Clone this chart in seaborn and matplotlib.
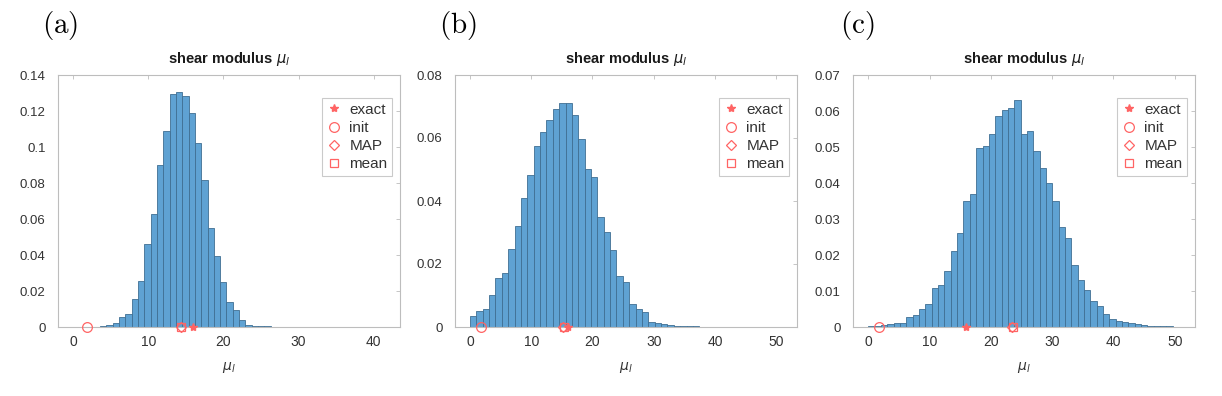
import numpy as np
import pandas as pd
import matplotlib
matplotlib.use('Agg')
import matplotlib.pyplot as plt
import seaborn as sns
from matplotlib.ticker import FuncFormatter, MultipleLocator

# histogram bins (50 per panel): start and width
bin_start = [0.25, 0.0, 0.0]
bin_width = [0.84, 1.04, 1.035]

# pdf heights of each bin
pdf_a = [0, 0, 0.0001, 0.0002, 0.0005, 0.0010, 0.0024, 0.0057, 0.0070, 0.0156,
         0.0256, 0.0460, 0.0630, 0.0900, 0.1090, 0.1294, 0.1304, 0.1283, 0.1190, 0.1024,
         0.0817, 0.0548, 0.0394, 0.0252, 0.0137, 0.0094, 0.0039, 0.0012, 0.0008, 0.0005,
         0.0003, 0.0002, 0.0001, 0.0001, 0.0001, 0.0001, 0.0001, 0.0001, 0.0001, 0.0001,
         0.0001, 0.0001, 0.0001, 0.0001, 0.0001, 0.0001, 0.0001, 0.0001, 0.0001, 0.0001]
pdf_b = [0.0034, 0.0051, 0.0056, 0.0102, 0.0155, 0.0170, 0.0249, 0.0320, 0.0408, 0.0482,
         0.0574, 0.0620, 0.0657, 0.0692, 0.0712, 0.0712, 0.0673, 0.0597, 0.0503, 0.0477,
         0.0349, 0.0302, 0.0246, 0.0161, 0.0143, 0.0072, 0.0058, 0.0048, 0.0016, 0.0013,
         0.0008, 0.0005, 0.0004, 0.0003, 0.0002, 0.0002, 0.0001, 0.0001, 0.0001, 0.0001,
         0.0001, 0.0001, 0.0001, 0.0001, 0.0001, 0.0001, 0.0001, 0.0001, 0.0001, 0.0001]
pdf_c = [0.0002, 0.0003, 0.0005, 0.0007, 0.0012, 0.0012, 0.0028, 0.0034, 0.0051, 0.0065,
         0.0109, 0.0116, 0.0156, 0.0211, 0.0262, 0.0350, 0.0369, 0.0497, 0.0502, 0.0536,
         0.0585, 0.0603, 0.0607, 0.0630, 0.0535, 0.0544, 0.0490, 0.0442, 0.0400, 0.0349,
         0.0278, 0.0246, 0.0172, 0.0130, 0.0104, 0.0071, 0.0057, 0.0037, 0.0023, 0.0017,
         0.0014, 0.0011, 0.0007, 0.0006, 0.0004, 0.0003, 0.0002, 0.0002, 0.0001, 0.0001]

# marker positions (on the x axis)
exact_val = [16.0, 16.0, 16.0]
init_val = [1.8, 1.8, 1.8]
map_val = [14.3, 15.2, 23.5]
mean_val = [14.4, 15.3, 23.6]

panel_labels = ['(a)', '(b)', '(c)']
xlims = [(-2.0, 43.5), (-2.45, 53.4), (-2.5, 53.3)]
ylims = [0.14, 0.08, 0.07]
ysteps = [0.02, 0.02, 0.01]

sns.set_theme(style='white')
plt.rcParams['font.family'] = ['Liberation Sans', 'DejaVu Sans']

fig = plt.figure(figsize=(12.22, 3.96), dpi=100)
lefts = [58, 455, 853]
pdfs = [pdf_a, pdf_b, pdf_c]
red = '#ff6464'
grey = '#bdbdbd'

for i in range(3):
    ax = fig.add_axes([lefts[i] / 1222, 1 - 327 / 396, 342 / 1222, 252 / 396])
    n = len(pdfs[i])
    lo = bin_start[i]
    hi = bin_start[i] + bin_width[i] * n
    centers = lo + bin_width[i] * (np.arange(n) + 0.5)
    df = pd.DataFrame({'mu': centers, 'pdf': pdfs[i]})
    sns.histplot(data=df, x='mu', weights='pdf', binwidth=bin_width[i], binrange=(lo, hi), ax=ax,
                 color='#5fa2d3', alpha=1, edgecolor='#3f6f93', linewidth=0.6)

    ax.plot([exact_val[i]], [0], ls='none', marker='*', ms=6, color=red, clip_on=False, zorder=5, label='exact')
    ax.plot([init_val[i]], [0], ls='none', marker='o', ms=7, mfc='none', mec=red, mew=0.9, clip_on=False, zorder=5, label='init')
    ax.plot([map_val[i]], [0], ls='none', marker='D', ms=5.5, mfc='none', mec=red, mew=0.9, clip_on=False, zorder=5, label='MAP')
    ax.plot([mean_val[i]], [0], ls='none', marker='s', ms=5.5, mfc='none', mec=red, mew=0.9, clip_on=False, zorder=5, label='mean')

    ax.set_xlim(*xlims[i])
    ax.set_ylim(0, ylims[i])
    ax.xaxis.set_major_locator(MultipleLocator(10))
    ax.yaxis.set_major_locator(MultipleLocator(ysteps[i]))
    ax.yaxis.set_major_formatter(FuncFormatter(lambda v, p: f'{v:g}'))
    ax.tick_params(direction='in', length=3, width=0.6, color=grey,
                   labelcolor='#333333', top=True, right=True)
    ax.tick_params(axis='x', labelsize=10, pad=6)
    ax.tick_params(axis='y', labelsize=9.5, pad=9)
    for s in ax.spines.values():
        s.set_color(grey)
        s.set_linewidth(0.8)

    ax.set_title(r'shear modulus $\mu_l$', fontsize=10.5, fontweight='bold', pad=9, color='#1a1a1a')
    ax.set_xlabel(r'$\mu_l$', fontsize=10, color='#333333', labelpad=8)
    ax.set_ylabel('')

    leg = ax.legend(loc='upper right', bbox_to_anchor=(1 - 8 / 342, 1 - 23 / 252), borderaxespad=0,
                    fontsize=11, frameon=True, fancybox=False, handlelength=1.0,
                    handletextpad=0.5, labelspacing=0.28, borderpad=0.3)
    leg.get_frame().set_edgecolor(grey)
    leg.get_frame().set_linewidth(0.8)
    for t in leg.get_texts():
        t.set_color('#333333')

label_x = [60, 458, 857]
for i in range(3):
    fig.text(label_x[i] / 1222, 1 - 26 / 396, r'$\mathrm{' + panel_labels[i] + '}$',
             math_fontfamily='cm', fontsize=21, ha='center', va='center', color='black')

fig.savefig('out.png', dpi=100)
